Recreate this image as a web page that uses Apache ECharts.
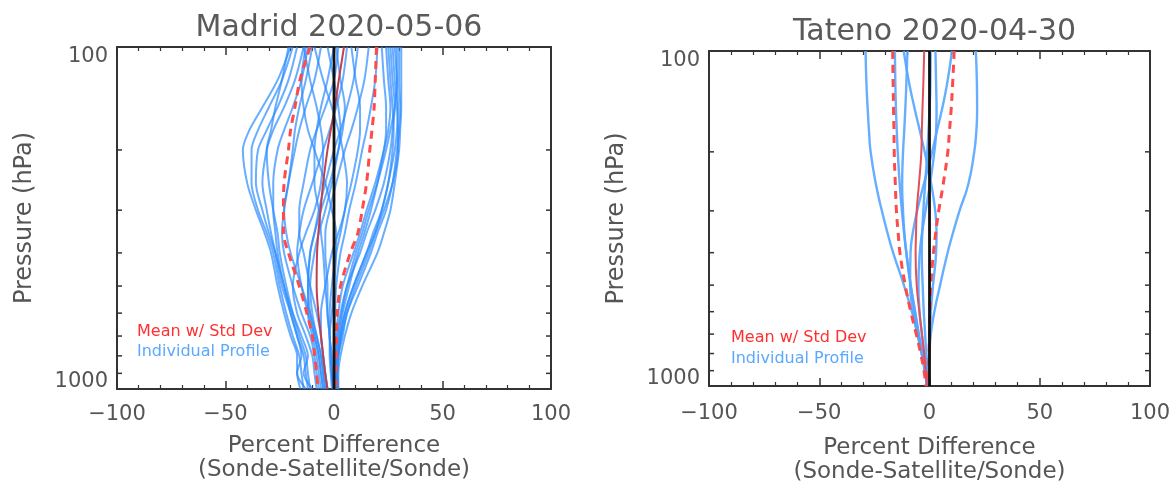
<!DOCTYPE html>
<html>
<head>
<meta charset="utf-8">
<script src="https://cdn.jsdelivr.net/npm/echarts@6.0.0/dist/echarts.min.js"></script>
<style>
html,body{margin:0;padding:0;background:#ffffff;}
#chart{width:1176px;height:489px;}
</style>
</head>
<body>
<div id="chart"></div>
<script>
// ---------------- DATA ----------------
const titles = ['Madrid 2020-05-06', 'Tateno 2020-04-30'];
const levels = [100, 125, 150, 175, 200, 250, 300, 350, 400, 500, 600, 700, 800, 900, 1000];
const yMinorTicks = [200, 300, 400, 500, 600, 700, 800, 900];
const zeroLine = [[0, 100], [0, 1000]];

// Madrid individual profiles (percent difference at each level)
const madridProfiles = [
  [-20,-26,-33,-39,-42,-40,-36,-32,-29,-26,-23,-20,-17,-17,-15.5],
  [-19,-24,-30,-35,-38,-38,-35,-31,-28,-25,-22,-19,-16,-15,-14],
  [-17,-21,-26,-31,-35,-36,-33,-30,-27,-23,-20,-17,-15,-17,-13],
  [-14,-18,-23,-28,-31,-33,-31,-29,-27,-24,-20,-17,-14,-13,-12],
  [-21,-24,-27,-29,-31,-30,-28,-26,-25,-22,-19,-16,-13,-12,-11],
  [-12,-15,-19,-23,-26,-28,-28,-27,-26,-23,-19,-15,-12,-14,-10],
  [-10,-13,-16,-18,-19,-21,-23,-24,-23,-19,-15,-11,-9,-8,-7],
  [-6,-9,-13,-16,-18,-21,-23,-22,-20,-15,-11,-8,-6,-5,-4],
  [-14,-11,-8,-6,-5,-6,-9,-13,-16,-19,-17,-13,-10,-9,-8],
  [2,0,-4,-8,-11,-14,-16,-16,-14,-11,-8,-6,-5,-4,-3],
  [-9,-5,-1,2,4,6,5,2,-1,-4,-6,-6,-5,-4,-3],
  [0,-3,-6,-8,-9,-9,-7,-6,-5,-4,-3,-2,-1.5,-1,0],
  [-3,0,2,3,2,-1,-4,-7,-9,-11,-10,-8,-6,-5,-4],
  [6,4,1,-2,-5,-10,-14,-16,-17,-15,-12,-9,-7,-6,-5],
  [-13,-15,-14,-12,-9,-4,-1,1,1,0,-1,-2,-2,-1.5,-1],
  [1,3,5,4,2,-2,-6,-9,-11,-12,-12,-10,-8,-7,-6],
  [11,9,6,3,0,-4,-7,-9,-11,-12,-11,-9,-7,-6,-5],
  [16,14,11,8,5,1,-2,-4,-4,-3,-3,-2,-1.5,-1,-0.5],
  [8,10,12,12,11,8,5,3,1,-1,-2,-2,-1,-1,0],
  [20,19,17,15,13,10,7,5,3,1,0.5,0,0,0,0.5],
  [24,25,26,25,23,19,15,12,9,4,2,1,0.5,0.5,1],
  [26,27,28,27,26,23,19,15,12,6,3,1.5,1,0.5,1],
  [28,29,29.5,29,28,25,22,18,15,9,5,3,1.5,1,1.5],
  [30,30,30.5,30,29,27,24,20,17,11,6,4,2,1.5,2],
  [31,31,31,30.5,30,28,26,23,20,13,8,5,3,2,2],
  [25,26,27,27.5,27,25,22,19,16,10,6,3.5,2,1.5,1.5],
  [29,29,28,26,24,20,16,13,10,6,3.5,2,1,1,1],
  [22,23,24,24,23,20,17,14,11,7,4,2.5,1.5,1,1],
  [27,28,29,29.5,29.5,27,23,19,15,9,5,3,2,1.5,1.5]
];
const madridMean = [4.6, 2.2, 0.4, -1.5, -3, -5, -6.2, -7.2, -7.8, -8, -7.2, -6, -5, -4.1, -3];
const madridLow  = [-11, -15.7, -18, -20, -21, -23, -23.3, -23.3, -21, -16, -12.5, -10, -8.9, -8, -7.4];
const madridHigh = [19.6, 19, 18.5, 17.5, 16.5, 15, 13, 11, 7.5, 3, 1.5, 1.2, 1, 0.8, 0.8];

// Tateno individual profiles
const tatenoProfiles = [
  [-29,-28.6,-28,-27.4,-26.7,-24.3,-21.6,-19,-16.5,-11.6,-8,-5.4,-3.3,-2,-1.2],
  [21,21.5,21.6,21.2,20.3,17.6,13.6,10.6,8.2,4.8,2.2,0.6,0,-0.3,-0.4],
  [-15.7,-15.5,-15.2,-14.8,-14.4,-13.5,-12.5,-11.5,-10.5,-8.5,-6.5,-4.8,-3.2,-2,-1],
  [-11.7,-9.2,-6.6,-4.2,-2.2,0.8,2.6,3.2,3,1.6,0.6,0,-0.3,-0.5,-0.5],
  [10.2,8,5.6,3.2,1.2,-2.6,-5.6,-7.6,-8.6,-8.8,-7.4,-5.5,-3.6,-2,-1],
  [2.7,3,3.2,3,2.2,0.2,-1.8,-3.4,-4.4,-5,-4.5,-3.5,-2.5,-1.5,-0.6],
  [-10,-10.5,-11,-11.5,-12,-12.4,-12,-11.4,-10.5,-8.6,-6.6,-5,-3.5,-2.2,-1],
  [0.5,0.4,0,-0.5,-1,-2,-2.8,-3.3,-3.5,-3.1,-2.6,-2,-1.5,-1,-0.5]
];
const tatenoMean = [-2.4, -2.8, -3.2, -3.5, -3.7, -4.8, -5.8, -6.1, -6.3, -5.8, -4.6, -3.4, -2.4, -1.7, -1.2];
const tatenoLow  = [-16.7, -16.5, -16.3, -16.1, -16, -15.5, -15, -14.2, -13.4, -11, -8.5, -6, -4, -2.5, -1.6];
const tatenoHigh = [11.2, 10.5, 9.8, 9, 8.3, 6.2, 4.2, 2.8, 1.8, 0.6, 0.2, 0, -0.2, -0.4, -0.5];

// ---------------- CHART ----------------
const FONT = 'DejaVu Sans';
const TXT = '#555555';
const AX = '#333333';
const pair = arr => arr.map((v, i) => [v, levels[i]]);
const minus = v => String(v).replace('-', '\u2212');

const grids = [
  {left: 117, top: 47, width: 434, height: 342},
  {left: 709, top: 51, width: 441, height: 346}
];

const xAxes = [], yAxes = [], series = [], titleArr = [];
grids.forEach((g, gi) => {
  xAxes.push({
    gridIndex: gi, type: 'value', min: -100, max: 100, interval: 50, position: 'bottom',
    axisLine: {show: true, onZero: false, lineStyle: {color: AX, width: 2}},
    axisTick: {show: true, inside: true, length: 8, lineStyle: {color: AX, width: 1.5}},
    minorTick: {show: true, splitNumber: 5, length: 4, lineStyle: {color: AX, width: 1.2}},
    splitLine: {show: false}, minorSplitLine: {show: false},
    axisLabel: {color: TXT, fontFamily: FONT, fontSize: 21, margin: gi === 0 ? 15 : 17, formatter: minus},
    name: 'Percent Difference\n(Sonde-Satellite/Sonde)',
    nameLocation: 'middle', nameGap: gi === 0 ? 45 : 50,
    nameTextStyle: {color: TXT, fontFamily: FONT, fontSize: 23, lineHeight: 24}
  });
  xAxes.push({
    gridIndex: gi, type: 'value', min: -100, max: 100, interval: 50, position: 'top',
    axisLine: {show: true, onZero: false, lineStyle: {color: AX, width: 2}},
    axisTick: {show: true, inside: true, length: 8, lineStyle: {color: AX, width: 1.5}},
    minorTick: {show: true, splitNumber: 5, length: 4, lineStyle: {color: AX, width: 1.2}},
    splitLine: {show: false}, minorSplitLine: {show: false},
    axisLabel: {show: false}
  });
  yAxes.push({
    gridIndex: gi, type: 'log', logBase: 10, min: 100, max: 1000, inverse: true, position: 'left',
    axisLine: {show: true, onZero: false, lineStyle: {color: AX, width: 2}},
    axisTick: {show: false}, splitLine: {show: false}, minorTick: {show: false},
    axisLabel: {
      color: TXT, fontFamily: FONT, fontSize: 21, margin: 9,
      formatter: v => (v <= 100 ? '{t|' + v + '}' : '{b|' + v + '}'),
      rich: {
        t: {color: TXT, fontFamily: FONT, fontSize: 21, padding: [20, 0, 0, 0]},
        b: {color: TXT, fontFamily: FONT, fontSize: 21, padding: [0, 0, 14, 0]}
      }
    },
    name: 'Pressure (hPa)', nameLocation: 'middle', nameRotate: 90, nameGap: 80,
    nameTextStyle: {color: TXT, fontFamily: FONT, fontSize: 24}
  });
  yAxes.push({
    gridIndex: gi, type: 'log', logBase: 10, min: 100, max: 1000, inverse: true, position: 'right',
    axisLine: {show: true, onZero: false, lineStyle: {color: AX, width: 2}},
    axisTick: {show: false}, splitLine: {show: false}, axisLabel: {show: false}
  });
  titleArr.push({
    text: titles[gi], left: g.left + g.width / 2, top: gi === 0 ? 8 : 12, textAlign: 'center',
    textStyle: {color: '#5a5a5a', fontFamily: FONT, fontSize: 30, fontWeight: 'normal'}
  });
});

function addPanel(gi, profiles, low, high, mean, blue, blueW, meanColor, sm) {
  const xi = gi * 2, yi = gi * 2;
  profiles.forEach(p => {
    series.push({
      type: 'line', name: 'Individual Profile', xAxisIndex: xi, yAxisIndex: yi,
      data: pair(p), showSymbol: false, symbol: 'none', smooth: sm,
      lineStyle: {color: blue, width: blueW}, silent: true, z: 2
    });
  });
  [low, high].forEach(d => series.push({
    type: 'line', name: 'Mean w/ Std Dev', xAxisIndex: xi, yAxisIndex: yi,
    data: pair(d), showSymbol: false, symbol: 'none', smooth: sm,
    lineStyle: {color: '#ff4a4a', width: 3, type: [8, 6]}, silent: true, z: 3
  }));
  series.push({
    type: 'line', name: 'Mean w/ Std Dev', xAxisIndex: xi, yAxisIndex: yi,
    data: pair(mean), showSymbol: false, symbol: 'none', smooth: sm,
    lineStyle: {color: meanColor, width: 2}, silent: true, z: 3
  });
  series.push({
    type: 'line', name: 'zero', xAxisIndex: xi, yAxisIndex: yi,
    data: zeroLine, showSymbol: false, symbol: 'none',
    lineStyle: {color: '#111111', width: 2.8}, silent: true, z: 4
  });
  series.push({
    type: 'custom', name: 'yticks', xAxisIndex: xi, yAxisIndex: yi, silent: true, z: 5,
    data: yMinorTicks.map(p => [-100, p]),
    renderItem: (params, api) => {
      const L = api.coord([-100, api.value(1)]);
      const R = api.coord([100, api.value(1)]);
      return {type: 'group', children: [
        {type: 'line', shape: {x1: L[0], y1: L[1], x2: L[0] + 5, y2: L[1]}, style: {stroke: AX, lineWidth: 1.5}},
        {type: 'line', shape: {x1: R[0], y1: R[1], x2: R[0] - 5, y2: R[1]}, style: {stroke: AX, lineWidth: 1.5}}
      ]};
    }
  });
}

addPanel(0, madridProfiles, madridLow, madridHigh, madridMean, 'rgba(40,138,255,0.7)', 2, '#c0404f', 0.3);
addPanel(1, tatenoProfiles, tatenoLow, tatenoHigh, tatenoMean, 'rgba(85,165,255,0.9)', 2.4, '#e0505a', 0.5);

const legendTexts = [
  {x: 137, y1: 333, y2: 353},
  {x: 731, y1: 339, y2: 360}
];
const graphics = [];
legendTexts.forEach(l => {
  graphics.push({type: 'text', left: l.x, top: l.y1 - 9, z: 10, style: {text: 'Mean w/ Std Dev', fill: '#ff3030', font: '16px "DejaVu Sans"'}});
  graphics.push({type: 'text', left: l.x, top: l.y2 - 9, z: 10, style: {text: 'Individual Profile', fill: '#5aa8ff', font: '16px "DejaVu Sans"'}});
});

const chart = echarts.init(document.getElementById('chart'), null, {renderer: 'canvas'});
chart.setOption({
  backgroundColor: '#ffffff',
  animation: false,
  title: titleArr,
  grid: grids,
  xAxis: xAxes,
  yAxis: yAxes,
  series: series,
  graphic: graphics,
  tooltip: {show: false}
});
</script>
</body>
</html>
